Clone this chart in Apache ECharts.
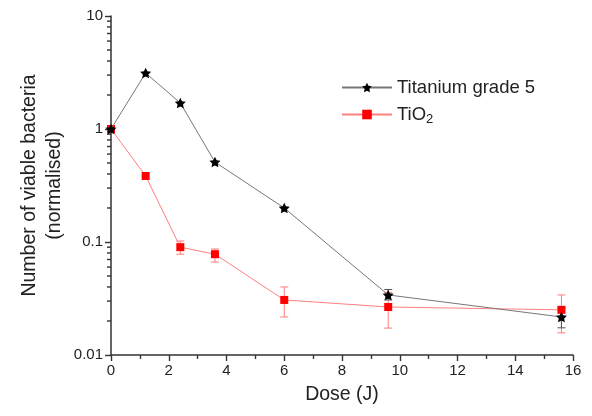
<!doctype html>
<html lang="en">
<head>
    <meta charset="UTF-8">
    <title>Viable bacteria vs dose</title>
    <script src="https://cdn.jsdelivr.net/npm/echarts@6.0.0/dist/echarts.min.js"></script>
    <style>
        html, body { margin: 0; padding: 0; background: #fff; }
    </style>
</head>
<body>
    <div id="main" style="width: 592px;height:416px;"></div>
    <script>
        // values
        var dose = [0, 1.2, 2.4, 3.6, 6, 9.6, 15.6];
        var titanium = [1, 3.13, 1.70, 0.51, 0.20, 0.034, 0.0217];
        var titaniumLow = [null, null, null, null, null, 0.0307, 0.0174];
        var titaniumHigh = [null, null, null, null, null, 0.038, 0.026];
        var tio2 = [1, 0.384, 0.090, 0.078, 0.0307, 0.0266, 0.0251];
        var tio2Low = [null, null, 0.078, 0.0665, 0.0217, 0.0173, 0.0157];
        var tio2High = [null, null, 0.102, 0.0867, 0.040, 0.0359, 0.034];
        var yMinor = [0.02, 0.03, 0.04, 0.05, 0.06, 0.07, 0.08, 0.09,
                      0.2, 0.3, 0.4, 0.5, 0.6, 0.7, 0.8, 0.9,
                      2, 3, 4, 5, 6, 7, 8, 9];

        function pairs(xs, ys) {
            return xs.map(function (x, i) { return [x, ys[i]]; });
        }
        function errData(xs, lo, hi) {
            var out = [];
            xs.forEach(function (x, i) {
                if (lo[i] != null) out.push([x, lo[i], hi[i]]);
            });
            return out;
        }
        function errBars(color) {
            return function (params, api) {
                var x = api.value(0);
                var p1 = api.coord([x, api.value(1)]);
                var p2 = api.coord([x, api.value(2)]);
                var w = 4;
                var st = { stroke: color, lineWidth: 1 };
                return {
                    type: 'group',
                    children: [
                        { type: 'line', shape: { x1: p1[0], y1: p1[1], x2: p2[0], y2: p2[1] }, style: st },
                        { type: 'line', shape: { x1: p1[0] - w, y1: p1[1], x2: p1[0] + w, y2: p1[1] }, style: st },
                        { type: 'line', shape: { x1: p2[0] - w, y1: p2[1], x2: p2[0] + w, y2: p2[1] }, style: st }
                    ]
                };
            };
        }
        // minor log ticks, placed through the y scale
        function minorTick(params, api) {
            var p = api.coord([0, api.value(1)]);
            return {
                type: 'line',
                shape: { x1: p[0] - 4, y1: p[1], x2: p[0], y2: p[1] },
                style: { stroke: '#333', lineWidth: 1.4 }
            };
        }

        var star = 'path://M0,-10 L2.94,-4.05 L9.51,-3.09 L4.76,1.55 L5.88,8.09 L0,5 L-5.88,8.09 L-4.76,1.55 L-9.51,-3.09 L-2.94,-4.05 Z';
        var font = 'Liberation Sans, Arial, sans-serif';
        var axisColor = '#333';

        var myChart = echarts.init(document.getElementById('main'));
        myChart.setOption({
            backgroundColor: '#fff',
            animation: false,
            textStyle: { fontFamily: font },
            grid: { left: 111, top: 16, right: 19, bottom: 61 },
            legend: {
                orient: 'vertical',
                left: 336,
                top: 73,
                itemWidth: 50,
                itemHeight: 12,
                itemGap: 8,
                data: ['Titanium grade 5', 'TiO2'],
                formatter: function (name) {
                    return name === 'TiO2' ? 'TiO{sub|2}' : name;
                },
                textStyle: {
                    fontSize: 18.5,
                    color: '#222',
                    rich: { sub: { fontSize: 13, verticalAlign: 'bottom', padding: [10, 0, 0, 0] } }
                }
            },
            xAxis: {
                type: 'value',
                min: 0,
                max: 16,
                interval: 2,
                name: 'Dose (J)',
                nameLocation: 'middle',
                nameGap: 30,
                nameTextStyle: { fontSize: 19.5, color: '#222' },
                axisLine: { lineStyle: { color: axisColor, width: 1.5 } },
                axisTick: { length: 6, lineStyle: { color: axisColor, width: 1.4 } },
                minorTick: { show: true, splitNumber: 2, length: 4, lineStyle: { color: axisColor, width: 1.4 } },
                axisLabel: { fontSize: 15, color: '#222', margin: 8 },
                splitLine: { show: false }
            },
            yAxis: {
                type: 'log',
                min: 0.01,
                max: 10,
                logBase: 10,
                name: 'Number of viable bacteria\n(normalised)',
                nameLocation: 'middle',
                nameGap: 44,
                nameMoveOverlap: false,
                nameTextStyle: { fontSize: 19.5, color: '#222', lineHeight: 25 },
                axisLine: { onZero: false, lineStyle: { color: axisColor, width: 1.5 } },
                axisTick: { length: 6, lineStyle: { color: axisColor, width: 1.4 } },
                axisLabel: {
                    fontSize: 15,
                    color: '#222',
                    margin: 8,
                    formatter: function (v) {
                        var labels = { '-2': '0.01', '-1': '0.1', '0': '1', '1': '10' };
                        return labels[String(Math.round(Math.log10(v)))];
                    }
                },
                splitLine: { show: false }
            },
            series: [{
                name: 'minor ticks',
                type: 'custom',
                renderItem: minorTick,
                data: yMinor.map(function (v) { return [0, v]; }),
                clip: false,
                silent: true,
                z: 1
            }, {
                name: 'TiO2 error',
                type: 'custom',
                renderItem: errBars('#ff7b7b'),
                data: errData(dose, tio2Low, tio2High),
                z: 1,
                silent: true
            }, {
                name: 'Titanium error',
                type: 'custom',
                renderItem: errBars('#555'),
                data: errData(dose, titaniumLow, titaniumHigh),
                z: 1,
                silent: true
            }, {
                name: 'TiO2',
                type: 'line',
                data: pairs(dose, tio2),
                symbol: 'rect',
                symbolSize: 8,
                itemStyle: { color: '#ff0000' },
                lineStyle: { color: '#ff8080', width: 1 },
                z: 2
            }, {
                name: 'Titanium grade 5',
                type: 'line',
                data: pairs(dose, titanium),
                symbol: star,
                symbolKeepAspect: true,
                symbolSize: 11,
                itemStyle: { color: '#000' },
                lineStyle: { color: '#777', width: 1 },
                z: 3
            }]
        });
    </script>
</body>
</html>
